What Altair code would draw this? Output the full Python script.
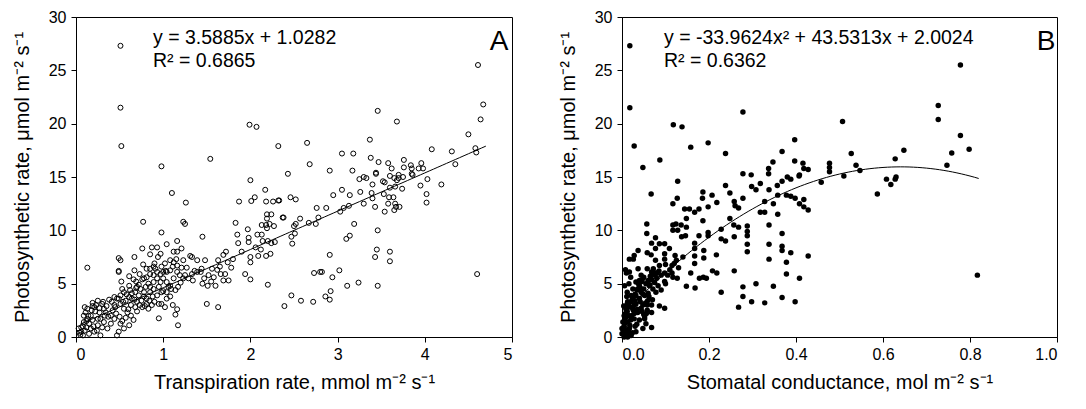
import altair as alt
import pandas as pd

# ---------------- Panel A: transpiration rate vs photosynthetic rate ----------------
xa = [0.51, 0.51, 0.52, 0.98, 1.54, 1.99, 2.07, 2.32,
      4.61, 3.46, 3.68, 4.67, 4.64, 4.50, 3.37, 2.65, 4.08, 4.31, 4.58, 4.59, 3.05, 3.18, 3.38, 3.47,
      3.58, 3.62, 3.76, 3.76, 3.84, 3.85, 3.93, 3.96, 3.98, 4.35, 2.68, 2.43, 2.91, 3.17, 3.44, 3.30,
      3.60, 3.70, 3.85,
      2.00, 2.17, 2.05, 2.01, 1.87, 2.18, 2.26, 2.32, 2.38, 1.10, 1.26, 0.77, 1.23, 1.25, 0.98, 1.45,
      1.83, 1.85, 1.86, 1.97, 1.98, 1.98, 2.13, 2.13, 2.18, 2.22, 2.19, 2.19, 2.24, 2.19, 2.27, 2.08,
      2.14, 2.20, 2.24, 2.28, 2.23, 2.18, 2.12, 2.06, 2.09, 2.00, 2.00, 1.94, 2.00, 2.20, 2.39, 1.72,
      1.69, 1.63, 1.74, 1.62, 1.66, 1.71, 1.75, 1.56, 1.58, 1.51, 1.50, 1.63, 1.69, 1.60, 1.43, 1.44,
      1.48, 1.31, 1.33, 1.16, 1.15, 1.12, 1.04, 1.16, 1.21, 1.23, 1.27, 1.21, 1.36, 1.39, 1.39, 1.03,
      1.11, 1.20, 1.11, 1.16, 1.14, 1.17, 0.95, 1.09, 1.00, 0.95, 0.87, 0.93, 0.97, 0.85, 0.94, 0.76,
      0.67, 0.77, 0.90, 0.89, 0.81, 0.73, 0.76, 0.67, 0.69, 0.66, 0.61, 0.49, 0.51, 0.49, 0.49, 0.52,
      0.53, 0.61, 0.13,
      0.10, 0.13, 0.19, 0.21, 0.22, 0.17, 0.13, 0.09, 0.12, 0.06, 0.04, 0.08, 0.21, 0.28, 0.47, 0.49,
      0.36, 0.40, 0.44, 0.28, 0.32, 0.25, 0.17, 0.34, 0.44, 0.51, 0.55, 0.59, 0.63, 0.66, 0.61, 0.55,
      0.51, 0.68, 0.70, 0.64, 0.72, 0.78, 0.81, 0.85, 0.89, 0.93, 0.98, 1.02, 1.04, 0.98, 1.04, 1.08,
      0.81, 0.76, 0.83, 0.87, 0.40, 0.30, 0.38, 0.32, 0.27, 0.25, 0.19, 0.15, 0.06, 0.09, 0.11, 0.19,
      0.25, 0.44, 0.47, 0.51, 0.55, 0.57,
      0.83, 0.89, 0.93, 0.97, 1.00, 1.04, 1.06, 0.95, 0.85, 0.80, 0.78, 0.74, 0.70, 0.68, 0.64, 0.61,
      1.12, 1.16, 1.19, 1.25, 1.29, 1.33, 1.34, 1.23, 1.17, 1.14, 1.08, 1.04, 1.00, 0.97, 0.93, 0.89,
      0.85, 0.81, 0.78, 0.85, 0.91, 0.98, 1.02, 1.08, 1.12, 1.08, 1.16,
      1.45, 1.55, 1.65, 1.78, 1.80, 1.90, 1.52, 1.47,
      3.25, 3.33, 3.44, 3.40, 3.52, 3.54, 3.65, 3.70, 3.75, 3.86, 3.68, 4.03, 4.19, 3.95, 4.02, 4.02,
      3.74, 3.66, 3.60, 3.59, 3.64, 3.66, 3.58, 3.67, 3.71, 3.65, 3.54, 3.53, 3.39, 3.40, 3.43, 3.30,
      3.26, 3.14, 3.05, 2.95, 2.87, 2.76, 3.07, 3.03, 3.13, 3.19, 3.10, 3.14, 3.46, 3.45, 3.43, 3.60,
      3.60, 2.91, 2.73, 2.80, 2.82, 3.02, 2.94, 3.11, 3.24, 3.46, 2.92, 2.86, 2.91, 2.72, 2.58, 2.47,
      4.60, 2.78, 2.67, 2.57, 2.52, 2.50, 2.51, 2.47, 2.48, 2.37, 2.46, 2.52, 2.33, 2.75,
      0.05, 0.10, 0.15, 0.20, 0.24, 0.30, 0.33, 0.37, 0.42, 0.46, 0.50, 0.53, 0.57, 0.60, 0.63, 0.67,
      0.70, 0.73, 0.75, 0.79, 0.84, 0.88, 0.90, 0.14, 0.18, 0.23, 0.27, 0.31, 0.35, 0.41, 0.45, 0.49,
      0.54, 0.58, 0.62, 0.69, 0.72, 0.08, 0.03, 0.12]
ya = [27.3, 21.5, 17.9, 16.0, 16.7, 19.9, 19.7, 17.9,
      25.5, 21.2, 20.2, 21.8, 20.4, 19.0, 18.5, 18.2, 17.6, 17.4, 17.7, 17.3, 17.2, 17.2, 16.8, 16.4,
      16.3, 15.8, 16.6, 15.9, 16.1, 15.8, 15.8, 16.3, 15.8, 16.2, 16.2, 15.3, 15.6, 15.6, 15.4, 15.0,
      15.1, 15.2, 15.3,
      14.7, 13.8, 13.1, 12.75, 12.7, 12.7, 12.7, 12.8, 11.2, 13.5, 12.6, 10.8, 10.8, 10.6, 9.8, 9.4,
      10.7, 9.6, 8.8, 10.1, 9.3, 8.9, 10.5, 9.6, 10.5, 10.6, 11.5, 11.1, 11.5, 10.2, 10.4, 9.6,
      9.0, 9.0, 8.8, 8.9, 7.8, 7.6, 8.2, 8.4, 7.6, 7.5, 7.0, 5.9, 5.4, 4.9, 2.9, 8.0,
      7.7, 7.2, 7.0, 6.3, 5.9, 5.9, 5.3, 6.4, 5.6, 4.8, 3.1, 2.8, 5.3, 4.8, 6.1, 6.4,
      7.2, 7.6, 7.5, 8.0, 7.3, 8.0, 8.7, 9.0, 8.3, 7.2, 6.5, 6.5, 6.2, 6.1, 7.2, 6.2,
      6.6, 5.1, 3.0, 2.6, 2.1, 1.1, 1.75, 4.5, 4.3, 3.1, 8.4, 8.4, 7.8, 7.75, 7.5, 8.3,
      7.5, 6.8, 6.9, 6.6, 6.4, 5.9, 5.4, 6.25, 5.2, 5.4, 4.8, 7.4, 7.2, 6.2, 6.1, 5.2,
      4.5, 5.7, 6.5,
      2.8, 2.65, 2.9, 2.8, 2.4, 2.0, 1.7, 1.4, 0.9, 0.5, 0.4, 0.15, 0.5, 0.15, 0.15, 0.5,
      0.8, 1.25, 1.7, 1.7, 1.4, 1.1, 0.8, 2.3, 3.0, 3.1, 2.65, 2.3, 2.0, 1.6, 1.1, 0.8,
      1.25, 2.8, 3.3, 3.6, 3.9, 3.8, 3.6, 4.2, 4.5, 3.9, 3.1, 2.8, 3.6, 4.2, 4.2, 3.8,
      3.1, 2.8, 2.65, 3.0, 2.0, 3.1, 3.5, 2.65, 2.3, 1.7, 1.6, 1.25, 0.9, 2.0, 2.3, 3.2,
      3.4, 3.75, 3.6, 3.9, 4.2, 3.4,
      5.0, 5.15, 5.5, 5.15, 5.5, 5.15, 4.7, 4.7, 4.7, 4.7, 4.2, 4.5, 4.7, 4.2, 4.1, 3.75,
      5.5, 6.1, 5.8, 5.8, 5.5, 5.9, 5.3, 5.5, 4.7, 4.4, 4.8, 6.1, 6.1, 5.9, 6.1, 5.8,
      5.9, 5.6, 5.5, 6.4, 6.4, 6.6, 6.9, 7.2, 7.0, 6.25, 6.7,
      5.0, 5.2, 6.6, 6.5, 7.3, 8.0, 5.8, 5.5,
      14.8, 14.9, 15.3, 14.3, 14.6, 14.5, 14.9, 14.9, 15.0, 15.2, 14.7, 14.8, 14.3, 14.2, 13.4, 12.6,
      13.9, 14.1, 14.0, 13.1, 13.1, 12.5, 12.5, 12.2, 12.2, 11.9, 11.75, 13.4, 13.5, 13.0, 12.2, 12.5,
      13.6, 13.3, 13.8, 13.3, 12.1, 12.1, 12.1, 11.75, 12.3, 10.6, 9.2, 9.5, 10.0, 8.2, 7.5, 8.0,
      7.1, 7.7, 6.0, 6.1, 6.1, 6.25, 5.6, 4.8, 5.1, 4.8, 4.3, 3.8, 3.5, 3.3, 3.4, 3.9,
      5.9, 11.2, 10.7, 11.1, 10.6, 10.4, 9.7, 9.4, 8.75, 11.2, 13.1, 12.9, 12.8, 10.6,
      0.2, 0.6, 0.3, 1.0, 0.6, 0.9, 2.0, 1.9, 2.5, 2.2, 1.9, 1.5, 1.8, 2.6, 3.0, 3.5,
      2.4, 3.0, 3.4, 2.9, 3.4, 3.8, 3.3, 2.0, 2.5, 3.0, 2.7, 3.3, 2.9, 3.3, 2.8, 3.6,
      3.3, 4.0, 4.4, 4.6, 4.9, 1.0, 0.8, 1.5]

# ---------------- Panel B: stomatal conductance vs photosynthetic rate ----------------
xb = [0.018, 0.018, 0.028, 0.048, 0.087, 0.118, 0.138, 0.158, 0.198, 0.238, 0.278, 0.278, 0.297, 0.337,
      0.337, 0.347, 0.368, 0.397, 0.397, 0.416, 0.418, 0.428, 0.380, 0.407, 0.477, 0.477, 0.477,
      0.778, 0.507, 0.727, 0.727, 0.778, 0.798, 0.758, 0.747, 0.648, 0.628, 0.527, 0.538, 0.547, 0.510,
      0.630, 0.587, 0.608, 0.628, 0.618, 0.817,
      0.128, 0.067, 0.238, 0.186, 0.207, 0.185, 0.117, 0.127, 0.144, 0.155, 0.167, 0.177, 0.198, 0.218,
      0.248, 0.258, 0.260, 0.268, 0.278, 0.298, 0.308, 0.318, 0.338, 0.357, 0.368, 0.388, 0.408, 0.358,
      0.378, 0.388, 0.398, 0.418, 0.348, 0.328, 0.318, 0.328, 0.358, 0.408, 0.418, 0.428, 0.458,
      0.057, 0.057, 0.077, 0.068, 0.077, 0.086, 0.098, 0.117, 0.124, 0.136, 0.148, 0.148, 0.146, 0.137,
      0.117, 0.128, 0.167, 0.177, 0.186, 0.198, 0.198, 0.228, 0.228, 0.238, 0.248, 0.257, 0.258, 0.268,
      0.288, 0.288, 0.288, 0.288, 0.288, 0.338, 0.338, 0.338, 0.368, 0.368, 0.368, 0.388, 0.378, 0.378,
      0.408, 0.428, 0.167, 0.167, 0.167, 0.188, 0.188, 0.217, 0.208, 0.218, 0.187, 0.178, 0.194, 0.158,
      0.148, 0.168, 0.228, 0.258, 0.278, 0.278, 0.268, 0.298, 0.308, 0.328, 0.348, 0.368, 0.398,
      0.098, 0.115, 0.125, 0.122, 0.109, 0.098, 0.086, 0.077, 0.067, 0.058, 0.037, 0.017, 0.026, 0.028,
      0.008, 0.017, 0.037, 0.058, 0.068, 0.077, 0.098, 0.098, 0.117, 0.127, 0.086, 0.098, 0.068, 0.068,
      0.068,
      0.032, 0.040, 0.048, 0.055, 0.063, 0.071, 0.044, 0.052, 0.059, 0.025, 0.021, 0.013, 0.009, 0.005,
      0.002, 0.000, 0.000, 0.009, 0.017, 0.013, 0.017, 0.025, 0.032, 0.040, 0.048, 0.036, 0.028, 0.040,
      0.052, 0.055, 0.048, 0.032, 0.021, 0.005, 0.013,
      0.005, 0.010, 0.003, 0.008, 0.012, 0.015, 0.020, 0.024, 0.030, 0.035, 0.042, 0.046, 0.050, 0.060,
      0.065, 0.070, 0.075, 0.080, 0.085, 0.090, 0.100, 0.110, 0.020, 0.028, 0.034, 0.044, 0.050, 0.058,
      0.062, 0.070, 0.078, 0.083, 0.090, 0.100, 0.105, 0.115, 0.120, 0.130, 0.140, 0.016, 0.006, 0.011,
      0.004,
      0.002, 0.004, 0.006, 0.008, 0.010, 0.012, 0.014, 0.018, 0.020, 0.022, 0.026, 0.028, 0.030, 0.032,
      0.036, 0.038, 0.040, 0.044, 0.048, 0.050, 0.054, 0.056, 0.060, 0.064, 0.068, 0.072, 0.076, 0.080,
      0.030, 0.024, 0.035, 0.042, 0.046, 0.052, 0.058, 0.012, 0.016, 0.020, 0.010, 0.006]
yb = [27.3, 21.5, 17.9, 15.9, 16.6, 19.9, 19.7, 17.8, 18.2, 17.2, 21.1, 15.3, 15.2, 15.8,
      15.3, 16.4, 17.4, 18.5, 16.5, 16.3, 15.8, 15.7, 15.0, 15.1, 16.3, 15.9, 15.5,
      25.5, 20.2, 21.7, 20.4, 18.9, 17.6, 17.25, 16.1, 17.5, 16.7, 17.2, 16.1, 15.6, 15.1,
      15.0, 13.4, 14.8, 14.8, 14.3, 5.8,
      14.6, 13.4, 14.2, 13.6, 13.3, 13.0, 12.5, 13.0, 12.0, 12.0, 11.7, 12.0, 12.2, 12.6,
      13.5, 12.7, 12.3, 12.1, 13.0, 14.1, 13.8, 14.4, 13.8, 14.2, 14.6, 14.8, 15.2, 13.3,
      13.3, 13.2, 13.0, 12.9, 12.5, 12.7, 11.7, 11.7, 11.5, 12.5, 12.2, 11.9, 14.5,
      10.6, 9.7, 9.3, 8.8, 8.3, 8.75, 8.75, 10.5, 10.6, 10.5, 10.3, 11.1, 9.5, 9.4,
      10.0, 10.0, 8.8, 9.5, 10.9, 9.8, 9.5, 10.1, 9.2, 9.0, 11.1, 10.5, 9.4, 10.3,
      10.4, 9.9, 9.5, 8.7, 8.0, 10.5, 8.7, 7.3, 9.7, 8.5, 8.1, 7.9, 7.0, 5.9,
      5.5, 7.6, 8.3, 7.6, 6.9, 8.1, 7.4, 7.7, 6.2, 6.0, 5.6, 5.5, 5.5, 6.0,
      4.75, 4.6, 4.2, 6.2, 4.7, 3.8, 2.8, 3.3, 5.0, 3.2, 4.75, 3.7, 3.3,
      7.3, 6.7, 7.2, 7.65, 8.3, 7.8, 6.7, 7.2, 7.7, 7.9, 8.1, 7.3, 7.3, 7.65,
      6.3, 6.1, 6.4, 6.4, 6.1, 6.0, 6.0, 5.2, 5.6, 5.5, 2.9, 2.7, 3.0, 2.3,
      0.9,
      5.15, 4.8, 5.5, 5.0, 4.8, 4.5, 4.2, 3.9, 3.4, 4.5, 3.9, 3.3, 2.65, 2.0,
      1.4, 0.8, 0.3, 0.5, 0.8, 1.4, 2.0, 2.65, 3.1, 3.6, 3.0, 2.3, 1.7, 1.6,
      1.7, 1.25, 0.8, 0.5, 0.15, 0.0, 0.0,
      1.0, 0.2, 0.6, 1.8, 2.4, 3.0, 3.3, 3.6, 4.0, 4.4, 4.6, 5.2, 5.6, 5.3,
      5.7, 5.9, 5.1, 5.5, 6.2, 5.8, 6.8, 6.3, 2.8, 2.2, 1.2, 2.7, 2.1, 2.5,
      3.8, 3.5, 4.2, 4.8, 4.4, 5.0, 5.8, 6.0, 6.9, 6.5, 7.5, 0.4, 1.5, 3.8,
      2.9,
      0.3, 0.9, 1.3, 2.2, 2.6, 3.1, 0.7, 1.1, 1.6, 2.0, 2.5, 3.0, 3.4, 3.9,
      4.5, 5.0, 5.3, 5.8, 4.0, 4.5, 3.2, 2.2, 4.1, 4.9, 5.4, 6.4, 5.8, 6.0,
      1.0, 0.4, 2.6, 3.3, 2.4, 1.9, 3.0, 4.2, 5.0, 5.6, 6.0, 4.8]

# Regression coefficients printed on the chart
A_SLOPE, A_INTERCEPT = 3.5885, 1.0282
B_C2, B_C1, B_C0 = -33.9624, 43.5313, 2.0024
A_FIT_RANGE = (0.05, 4.70)
B_FIT_RANGE = (0.0, 0.82)

eq_a = ["y = 3.5885x + 1.0282", "R² = 0.6865"]
eq_b = ["y = -33.9624x² + 43.5313x + 2.0024", "R² = 0.6362"]

y_title = "Photosynthetic rate, μmol m⁻² s⁻¹"
xa_title = "Transpiration rate,  mmol m⁻²  s⁻¹"
xb_title = "Stomatal conductance,  mol m⁻² s⁻¹"
y_ticks = [0, 5, 10, 15, 20, 25, 30]
xa_ticks = [0, 1, 2, 3, 4, 5]
xb_ticks = [0.0, 0.2, 0.4, 0.6, 0.8, 1.0]

FONT = "Liberation Sans"
W_A, W_B, H = 436, 435, 320

dfa = pd.DataFrame({"x": xa, "y": ya})
dfb = pd.DataFrame({"x": xb, "y": yb})

y_enc = alt.Y("y:Q", scale=alt.Scale(domain=[0, 30], nice=False),
              axis=alt.Axis(values=y_ticks, title=y_title))


def text_layer(s, x, y, size):
    return alt.Chart(pd.DataFrame({"t": [s]})).mark_text(
        align="left", baseline="middle", font=FONT, fontSize=size, color="black"
    ).encode(text="t:N", x=alt.value(x), y=alt.value(y))


def letter_layer(s, x, y):
    return alt.Chart(pd.DataFrame({"t": [s]})).mark_text(
        align="center", baseline="middle", font=FONT, fontSize=28, color="black"
    ).encode(text="t:N", x=alt.value(x), y=alt.value(y))


# Panel A
xa_enc = alt.X("x:Q", scale=alt.Scale(domain=[0, 5], nice=False),
               axis=alt.Axis(values=xa_ticks, title=xa_title, format="d"))
pts_a = alt.Chart(dfa).mark_point(filled=False, color="black", size=25, strokeWidth=1,
                                  opacity=1).encode(x=xa_enc, y=y_enc)
line_a = alt.Chart(alt.sequence(A_FIT_RANGE[0], A_FIT_RANGE[1] + 0.01, 0.05, as_="x")).transform_calculate(
    y=f"{A_SLOPE} * datum.x + {A_INTERCEPT}"
).mark_line(color="black", strokeWidth=1).encode(x=xa_enc, y=y_enc)
panel_a = alt.layer(
    pts_a, line_a,
    text_layer(eq_a[0], 77, 21, 19.5), text_layer(eq_a[1], 77, 44, 19.5),
    letter_layer("A", 423, 25),
).properties(width=W_A, height=H)

# Panel B
xb_enc = alt.X("x:Q", scale=alt.Scale(domain=[0, 1], nice=False),
               axis=alt.Axis(values=xb_ticks, title=xb_title, format=".1f"))
pts_b = alt.Chart(dfb).mark_circle(color="black", size=30, opacity=1).encode(x=xb_enc, y=y_enc)
line_b = alt.Chart(alt.sequence(B_FIT_RANGE[0], B_FIT_RANGE[1] + 0.001, 0.01, as_="x")).transform_calculate(
    y=f"{B_C2} * datum.x * datum.x + {B_C1} * datum.x + {B_C0}"
).mark_line(color="black", strokeWidth=1).encode(x=xb_enc, y=y_enc)
panel_b = alt.layer(
    pts_b, line_b,
    text_layer(eq_b[0], 42, 21, 19.5), text_layer(eq_b[1], 42, 44, 19.5),
    letter_layer("B", 424, 25),
).properties(width=W_B, height=H)

chart = alt.hconcat(panel_a, panel_b, spacing=44).properties(
    padding={"left": 3, "top": 0, "right": 0, "bottom": 0}
).configure_view(
    stroke="black", strokeWidth=1
).configure_axis(
    grid=False, domainColor="black", tickColor="black", tickSize=5,
    labelFont=FONT, labelFontSize=16, labelColor="black",
    titleFont=FONT, titleFontSize=20, titleFontWeight="normal", titleColor="black"
).configure_axisX(
    labelPadding=4, titlePadding=10
).configure_axisY(
    labelPadding=5, titlePadding=16
)

chart.save("out.html", embed_options={"renderer": "svg", "actions": False})
